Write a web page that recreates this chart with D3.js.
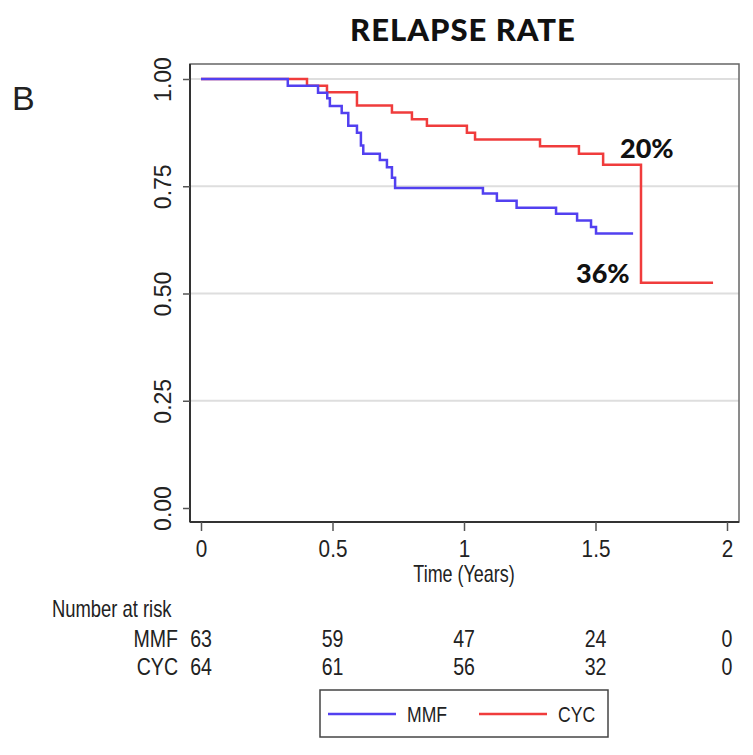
<!DOCTYPE html>
<html>
<head>
<meta charset="utf-8">
<script src="https://cdn.jsdelivr.net/npm/d3@7"></script>
<style>
  html, body { margin: 0; padding: 0; background: #fff; }
  svg { display: block; }
  .num { font-family: "Liberation Sans", Arial, sans-serif; fill: #222; }
  .bold { font-family: Lato, "Open Sans", "DejaVu Sans", sans-serif; font-weight: 900; fill: #111; }
</style>
</head>
<body>
<svg id="chart" width="753" height="755"></svg>
<script>
// Kaplan–Meier style step data: time of each drop (years) and the survival after it
const mmfTime = [0, 0.33, 0.445, 0.48, 0.49, 0.535, 0.56, 0.593, 0.608, 0.617, 0.68, 0.707, 0.726, 0.738, 1.072, 1.125, 1.20, 1.35, 1.43, 1.483, 1.502];
const mmfSurv = [1, 0.984, 0.968, 0.955, 0.937, 0.921, 0.891, 0.875, 0.845, 0.826, 0.811, 0.794, 0.770, 0.746, 0.733, 0.716, 0.700, 0.686, 0.670, 0.655];
const mmfEnd = 1.643;

const cycTime = [0, 0.403, 0.479, 0.593, 0.726, 0.802, 0.859, 1.011, 1.042, 1.289, 1.437, 1.529, 1.673];
const cycSurv = [1, 0.984, 0.969, 0.938, 0.922, 0.906, 0.891, 0.875, 0.859, 0.843, 0.826];
const cycFinal = 0.525;
const cycEnd = 1.947;

// Relapse rates printed beside the curves (percent)
const relapseCYC = 20;
const relapseMMF = 36;

// Axis ticks
const xTicks = [0, 0.5, 1, 1.5, 2];
const xTickLabels = ["0", "0.5", "1", "1.5", "2"];
const yTicks = [0, 0.25, 0.5, 0.75, 1];
const yTickLabels = ["0.00", "0.25", "0.50", "0.75", "1.00"];

// Number at risk table
const riskTimes = [0, 0.5, 1, 1.5, 2];
const riskMMF = [63, 59, 47, 24, 0];
const riskCYC = [64, 61, 56, 32, 0];

const seriesNames = ["MMF", "CYC"];
const colors = { MMF: "#5240f0", CYC: "#f03c3c" };

// Survival arrays completed with the plateaus implied by the relapse labels
const mmfValues = mmfSurv.concat([1 - relapseMMF / 100]);
const cycValues = cycSurv.concat([1 - relapseCYC / 100, cycFinal]);

function buildSteps(times, values, end) {
  const pts = times.map((t, i) => ({ t, s: values[i] }));
  pts.push({ t: end, s: values[values.length - 1] });
  return pts;
}
const mmfData = buildSteps(mmfTime, mmfValues, mmfEnd);
const cycData = buildSteps(cycTime, cycValues, cycEnd);

const svg = d3.select("#chart");

const frame = { left: 190, right: 739, top: 64, bottom: 522 };
const x = d3.scaleLinear().domain([0, 2]).range([201, 727]);
const y = d3.scaleLinear().domain([0, 1]).range([508, 79]);

// Condensed sans text: horizontally squeezed Liberation Sans
const SQ = 0.85;
function narrowText(parent, tx, ty, size, anchor, str, sq = SQ) {
  return parent.append("text").attr("class", "num")
    .attr("transform", `translate(${tx},${ty}) scale(${sq},1)`)
    .attr("text-anchor", anchor)
    .style("font-size", size + "px")
    .text(str);
}

// Title and panel letter
svg.append("text").attr("class", "bold")
  .attr("x", 463).attr("y", 41).attr("text-anchor", "middle")
  .style("font-size", "31px").style("letter-spacing", "1px")
  .text("RELAPSE RATE");
svg.append("text")
  .attr("x", 12).attr("y", 110)
  .style("font-family", "'Liberation Sans', Arial, sans-serif")
  .style("font-size", "34px").attr("fill", "#222")
  .text("B");

// Horizontal gridlines
svg.append("g").selectAll("line")
  .data(yTicks.filter(d => d > 0))
  .join("line")
  .attr("x1", frame.left).attr("x2", frame.right)
  .attr("y1", d => y(d)).attr("y2", d => y(d))
  .attr("stroke", "#dedede").attr("stroke-width", 2);

// Plot region outline
svg.append("rect")
  .attr("x", frame.left).attr("y", frame.top)
  .attr("width", frame.right - frame.left).attr("height", frame.bottom - frame.top)
  .attr("fill", "none").attr("stroke", "#666").attr("stroke-width", 1.5);

// Y axis
const yAxis = svg.append("g")
  .attr("transform", `translate(${frame.left},0)`)
  .call(d3.axisLeft(y).tickValues(yTicks).tickSize(7)
    .tickFormat((d, i) => yTickLabels[i]));
yAxis.select(".domain").attr("d", `M0,${frame.top}V${frame.bottom}`)
  .attr("stroke", "#333").attr("stroke-width", 2);
yAxis.selectAll(".tick line").attr("stroke", "#555").attr("stroke-width", 1.5);
yAxis.selectAll(".tick text")
  .attr("x", null).attr("dy", null)
  .attr("transform", "translate(-25,0) rotate(-90)")
  .attr("text-anchor", "middle").attr("dominant-baseline", "middle")
  .style("font-family", "'Liberation Sans', Arial, sans-serif")
  .style("font-size", "23px").attr("fill", "#222");

// X axis
const xAxis = svg.append("g")
  .attr("transform", `translate(0,${frame.bottom})`)
  .call(d3.axisBottom(x).tickValues(xTicks).tickSize(9)
    .tickFormat((d, i) => xTickLabels[i]));
xAxis.attr("font-size", 23);
xAxis.select(".domain").attr("d", `M${frame.left},0H${frame.right}`)
  .attr("stroke", "#333").attr("stroke-width", 2);
xAxis.selectAll(".tick line").attr("stroke", "#555").attr("stroke-width", 1.5);
xAxis.selectAll(".tick text")
  .attr("y", null).attr("dy", null)
  .attr("transform", `translate(0,35) scale(0.9,1)`)
  .attr("class", "num").style("font-size", "23px");

narrowText(svg, x(1), 582, 23, "middle", "Time (Years)", 0.78);

// Survival step curves
const line = d3.line()
  .x(d => x(d.t)).y(d => y(d.s))
  .curve(d3.curveStepAfter);

svg.append("path").datum(cycData)
  .attr("d", line).attr("fill", "none")
  .attr("stroke", colors.CYC).attr("stroke-width", 2.5);
svg.append("path").datum(mmfData)
  .attr("d", line).attr("fill", "none")
  .attr("stroke", colors.MMF).attr("stroke-width", 2.5);

// Relapse rate labels
svg.append("text").attr("class", "bold")
  .attr("x", 620).attr("y", y(1 - relapseCYC / 100) - 7)
  .style("font-size", "27px")
  .text(relapseCYC + "%");
svg.append("text").attr("class", "bold")
  .attr("x", 576).attr("y", y(1 - relapseMMF / 100) + 50)
  .style("font-size", "27px")
  .text(relapseMMF + "%");

// Number at risk table
narrowText(svg, 52, 617, 23, "start", "Number at risk", 0.8);

const riskRows = [
  { name: "MMF", values: riskMMF, yPos: 647 },
  { name: "CYC", values: riskCYC, yPos: 675 }
];
riskRows.forEach(row => {
  narrowText(svg, 178, row.yPos, 23, "end", row.name);
  row.values.forEach((v, i) => {
    narrowText(svg, x(riskTimes[i]), row.yPos, 23, "middle", String(v));
  });
});

// Legend
const legend = svg.append("g");
legend.append("rect")
  .attr("x", 320).attr("y", 690).attr("width", 288).attr("height", 47)
  .attr("fill", "#fff").attr("stroke", "#444").attr("stroke-width", 1.5);
const legendItems = [
  { name: seriesNames[0], x0: 328, tx: 407 },
  { name: seriesNames[1], x0: 479, tx: 558 }
];
legendItems.forEach(it => {
  legend.append("line")
    .attr("x1", it.x0).attr("x2", it.x0 + 68)
    .attr("y1", 714).attr("y2", 714)
    .attr("stroke", colors[it.name]).attr("stroke-width", 2.5);
  narrowText(legend, it.tx, 722, 22, "start", it.name, 0.8);
});
</script>
</body>
</html>
